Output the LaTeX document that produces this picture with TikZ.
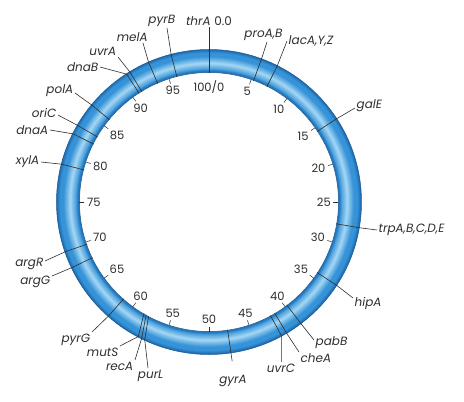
\documentclass[tikz,border=0pt]{standalone}
\usepackage{fontspec}
\setmainfont{Poppins}
\usetikzlibrary{positioning,calc}
\definecolor{ringdark}{HTML}{1E69AD}
\definecolor{ringmid}{HTML}{3693D8}
\definecolor{ringlight}{HTML}{A6D8F5}
\definecolor{inkgray}{HTML}{2E2E2E}
\tikzset{
    gene/.style={font=\fontsize{12}{14}\selectfont\itshape, text=inkgray, inner sep=1.5pt},
    minute/.style={font=\fontsize{11.5}{13}\selectfont, text=inkgray, inner sep=1pt},
    link/.style={draw=inkgray, line width=0.6pt}
}

\begin{document}
\begin{tikzpicture}[x=1pt, y=1pt]
\useasboundingbox (-209,-200) rectangle (255,202);

% chromosome ring, filled from the outside in
\foreach \i in {46,45,...,0} {
    \pgfmathtruncatemacro\ql{100*max(0,1-abs(\i/46-0.4)/0.3)}
    \pgfmathtruncatemacro\qd{100*min(1,min(\i/46,1-\i/46)/0.15)}
    \fill[color=ringlight!\ql!ringmid!\qd!ringdark] (0,0) circle ({129.5+\i/2});
}
\fill[white] (0,0) circle (129.5);
\draw[ringdark!85!black, line width=0.5pt] (0,0) circle (129.5) (0,0) circle (152.5);

% minutes
\foreach \p in {5,10,...,95} {
    \pgfmathtruncatemacro\an{90-3.6*\p}
    \draw[inkgray, line width=0.5pt] (\an:124.5) -- (\an:129.5);
    \node[minute, anchor=\an] (m\p) at (\an:123) {\p};
}
\node[minute, anchor=north] (m0) at (90:123) {100/0};

% gene positions on the ring
\foreach \g/\p/\q in {thrA/0/0, pyrB/96/96, melA/93.5/93.5, uvrA/91.3/91.3, dnaB/90.9/90.9,
    polA/86/86, oriC/83.4/83.4, dnaA/82.4/82.4, xylA/79/79, argR/69.7/69.7, argG/67.9/67.9,
    pyrG/61.5/61.5, mutS/58.4/57.7, recA/58.1/57.3, purL/57.75/56.95, gyrA/47.7/47.7,
    uvrC/42.1/42.1, cheA/41.5/41.5, pabB/39.7/39.7, hipA/34.2/34.2, trpA/27.7/27.7,
    galE/15.8/15.8, lac/7.4/7.4, pro/5.6/5.6} {
    \coordinate (\g-i) at ({90-3.6*\p}:129);
    \coordinate (\g-o) at ({90-3.6*\q}:152);
}
\coordinate (gyrA-e) at ({90-3.6*47.7}:161);

\node[gene, anchor=south] (thrA) at (0,175) {thrA \upshape 0.0};
\node[gene, anchor=-55] (pyrB) at (-42,174) {pyrB};
\node[gene, anchor=-30] (melA) at (-66,159) {melA};
\node[gene, anchor=south east] (uvrA) at (-91,145) {uvrA};
\node[gene, anchor=east] (dnaB) at (-109,135) {dnaB};
\node[gene, anchor=-10] (polA) at (-134,109) {polA};
\node[gene, anchor=-10] (oriC) at (-151,87) {oriC};
\node[gene, anchor=east] (dnaA) at (-159,72) {dnaA};
\node[gene, anchor=east] (xylA) at (-168,40) {xylA};
\node[gene, anchor=10] (argR) at (-164,-59) {argR};
\node[gene, anchor=20] (argG) at (-157,-74) {argG};
\node[gene, anchor=north east] (pyrG) at (-117,-130) {pyrG};
\node[gene, anchor=north east] (mutS) at (-89,-144) {mutS};
\node[gene, anchor=north east] (recA) at (-74,-158) {recA};
\node[gene, anchor=110] (purL) at (-61,-166) {purL};
\node[gene, anchor=north] (gyrA) at (24,-171) {gyrA};
\node[gene, anchor=north] (uvrC) at (72,-160) {uvrC};
\node[gene, anchor=north west] (cheA) at (90,-150) {cheA};
\node[gene, anchor=170] (pabB) at (105,-138) {pabB};
\node[gene, anchor=160] (hipA) at (144,-96) {hipA};
\node[gene, anchor=west] (trpA) at (168,-28) {trpA,B,C,D,E};
\node[gene, anchor=190] (galE) at (146,94) {galE};
\node[gene, anchor=west] (lacAYZ) at (78,161) {lacA,Y,Z};
\node[gene, anchor=-65] (proAB) at (58,160) {proA,B};

\draw[link] (thrA-i) -- (thrA.south);
\draw[link] (pyrB-i) -- (pyrB-o) -- (pyrB.-55);
\draw[link] (melA-i) -- (melA-o) -- (melA.-30);
\draw[link] (uvrA-i) -- (uvrA-o) -- (uvrA.south east);
\draw[link] (dnaB-i) -- (dnaB-o) -- (dnaB.east);
\draw[link] (polA-i) -- (polA-o) -- (polA.-10);
\draw[link] (oriC-i) -- (oriC-o) -- (oriC.-10);
\draw[link] (dnaA-i) -- (dnaA-o) -- (dnaA.east);
\draw[link] (xylA-i) -- (xylA-o) -- (xylA.east);
\draw[link] (argR-i) -- (argR-o) -- (argR.10);
\draw[link] (argG-i) -- (argG-o) -- (argG.20);
\draw[link] (pyrG-i) -- (pyrG-o) -- (pyrG.north east);
\draw[link] (mutS-i) -- (mutS-o) -- (mutS.north east);
\draw[link] (recA-i) -- (recA-o) -- (recA.north east);
\draw[link] (purL-i) -- (purL-o) -- (purL.110);
\draw[link] (gyrA-i) -- (gyrA-e);
\draw[link] (uvrC-i) -- (uvrC-o) -- (uvrC-o |- uvrC.north);
\draw[link] (cheA-i) -- (cheA-o) -- (cheA.north west);
\draw[link] (pabB-i) -- (pabB-o) -- (pabB.170);
\draw[link] (hipA-i) -- (hipA-o) -- (hipA.160);
\draw[link] (trpA-i) -- (trpA-o) -- (trpA.west);
\draw[link] (galE-i) -- (galE-o) -- (galE.190);
\draw[link] (lac-i) -- (lac-o) -- (lacAYZ.west);
\draw[link] (pro-i) -- (pro-o) -- (proAB.-65);

\end{tikzpicture}
\end{document}
